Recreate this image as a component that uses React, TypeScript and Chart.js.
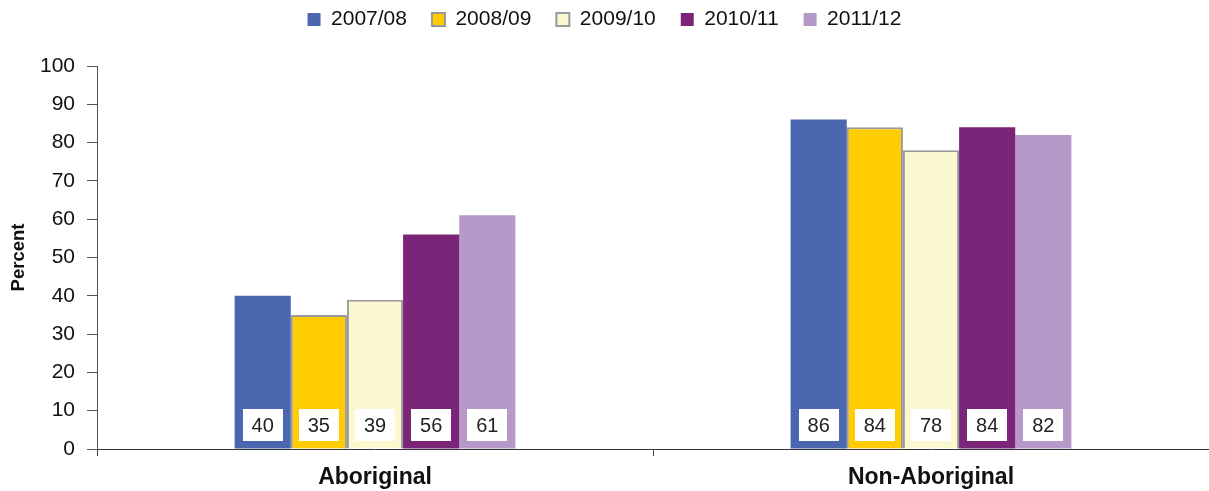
import React, { useEffect, useRef } from "react";
import { Chart, registerables } from "chart.js";

Chart.register(...registerables);

const categories = ["Aboriginal", "Non-Aboriginal"];
const seriesLabels = ["2007/08", "2008/09", "2009/10", "2010/11", "2011/12"];
const v200708 = [40, 86];
const v200809 = [35, 84];
const v200910 = [39, 78];
const v201011 = [56, 84];
const v201112 = [61, 82];
const yTicks = [0, 10, 20, 30, 40, 50, 60, 70, 80, 90, 100];

const fills = ["#4A67B0", "#FFCC00", "#FBF8D0", "#7B2579", "#B699C8"];
const borders = ["#4A67B0", "#999999", "#999999", "#7B2579", "#B699C8"];
const FONT = "'Liberation Sans', Arial, sans-serif";

const labelBoxPlugin = {
  id: "labelBoxes",
  afterDatasetsDraw(chart: any) {
    const ctx = chart.ctx;
    const yScale = chart.scales.y;
    const base = yScale.getPixelForValue(0);
    ctx.save();
    ctx.font = "20px " + FONT;
    ctx.textAlign = "center";
    ctx.textBaseline = "middle";
    chart.data.datasets.forEach((ds: any, di: number) => {
      const meta = chart.getDatasetMeta(di);
      meta.data.forEach((bar: any, i: number) => {
        const w = 40;
        const h = 32;
        const cy = base - 8 - h / 2;
        ctx.fillStyle = "#ffffff";
        ctx.fillRect(Math.round(bar.x - w / 2), Math.round(cy - h / 2), w, h);
        ctx.fillStyle = "#222222";
        ctx.fillText(String(ds.data[i]), bar.x, cy + 1);
      });
    });
    ctx.restore();
  },
};

const legendHeightPlugin = {
  id: "legendHeight",
  beforeLayout(chart: any) {
    const lg = chart.legend;
    if (lg && !lg.__patched) {
      const orig = lg.fit.bind(lg);
      lg.fit = function () {
        orig();
        this.height = 82;
      };
      lg.__patched = true;
    }
  },
};

export default function App() {
  const ref = useRef<HTMLCanvasElement | null>(null);
  useEffect(() => {
    if (!ref.current) return;
    const series = [v200708, v200809, v200910, v201011, v201112];
    const chart = new Chart(ref.current, {
      type: "bar",
      data: {
        labels: categories,
        datasets: series.map((d, i) => ({
          label: seriesLabels[i],
          data: d,
          backgroundColor: fills[i],
          borderColor: borders[i],
          borderWidth: i === 1 || i === 2 ? 2 : 0,
          barPercentage: 1,
          categoryPercentage: 0.505,
        })),
      },
      options: {
        animation: false,
        responsive: false,
        maintainAspectRatio: false,
        layout: { padding: { top: -16, right: 0, left: 0, bottom: 0 } },
        plugins: {
          legend: {
            position: "top",
            labels: {
              boxWidth: 13,
              boxHeight: 13,
              padding: 25,
              color: "#111111",
              font: { size: 21, family: FONT },
            },
          },
          tooltip: { enabled: false },
        },
        scales: {
          x: {
            afterFit: (axis: any) => {
              axis.height = 42;
            },
            grid: {
              drawOnChartArea: false,
              tickLength: 7,
              color: "#444444",
              offset: true,
            },
            border: { color: "#333333", width: 1 },
            ticks: {
              color: "#111111",
              font: { size: 23, weight: "bold", family: FONT },
              padding: 8,
            },
          },
          y: {
            min: 0,
            max: 100,
            afterBuildTicks: (axis: any) => {
              axis.ticks = yTicks.map((v) => ({ value: v }));
            },
            afterFit: (axis: any) => {
              axis.width = 97;
            },
            grid: { drawOnChartArea: false, tickLength: 10, color: "#555555" },
            border: { color: "#555555", width: 1 },
            ticks: {
              color: "#111111",
              font: { size: 21, family: FONT },
              padding: 12,
            },
            title: {
              display: true,
              text: "Percent",
              color: "#111111",
              font: { size: 18.5, weight: "bold", family: FONT },
              padding: { top: 8, bottom: 0 },
            },
          },
        },
      },
      plugins: [labelBoxPlugin, legendHeightPlugin],
    });
    return () => chart.destroy();
  }, []);
  return (
    <div style={{ position: "fixed", left: 0, top: 0, width: 1209, height: 491, background: "#fff" }}>
      <canvas ref={ref} width={1209} height={491} style={{ width: 1209, height: 491 }} />
    </div>
  );
}
